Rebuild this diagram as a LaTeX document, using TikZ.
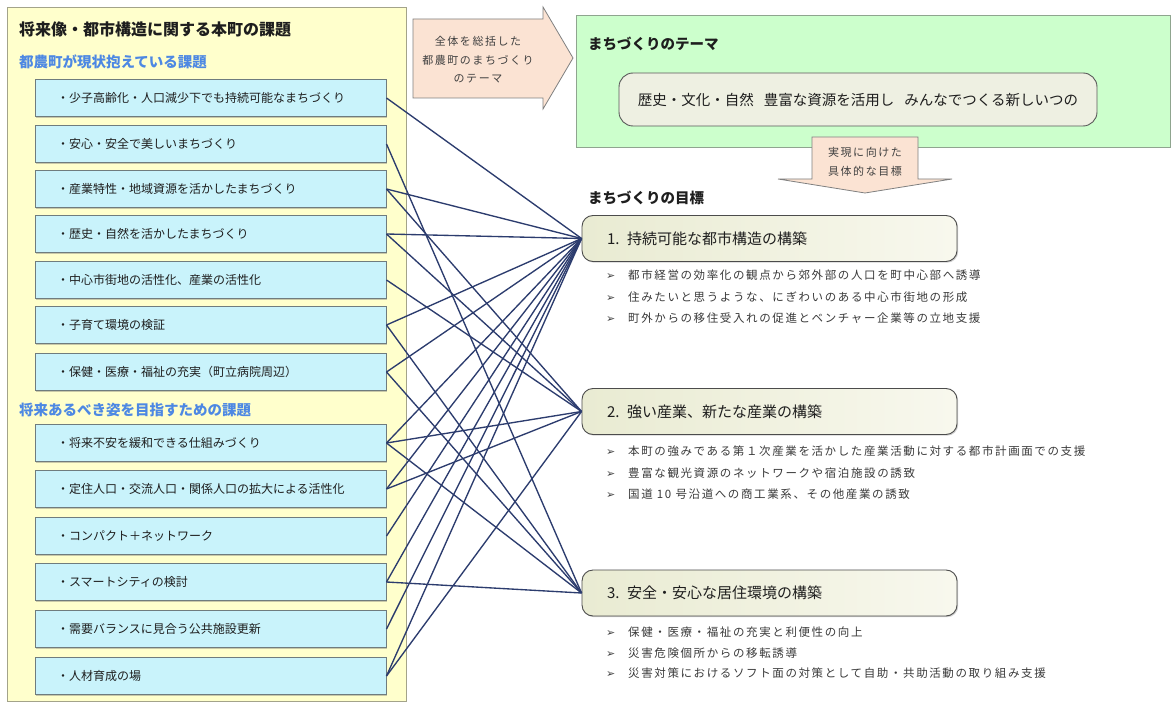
\documentclass[tikz,border=0pt]{standalone}
\usepackage{fontspec}
\setmainfont{Noto Sans CJK JP}
\newfontfamily\jpls{Noto Sans CJK JP}[LetterSpace=14]
\newfontfamily\djv{DejaVu Sans}
\usetikzlibrary{shadows}
\definecolor{panelfill}{HTML}{FFFFCC}
\definecolor{panelborder}{HTML}{A3A38A}
\definecolor{boxfill}{HTML}{C9F3FB}
\definecolor{boxborder}{HTML}{6F7C7E}
\definecolor{subblue}{HTML}{4D88E3}
\definecolor{conncol}{HTML}{2C3C6E}
\definecolor{peach}{HTML}{FBE3D3}
\definecolor{peachborder}{HTML}{808080}
\definecolor{greenfill}{HTML}{CCFFCC}
\definecolor{greenborder}{HTML}{8FA58F}
\definecolor{themefill}{HTML}{EEF0E2}
\definecolor{goalleft}{HTML}{E9EBD2}
\definecolor{goalright}{HTML}{F8F8EE}
\definecolor{textdark}{HTML}{1E1E1E}
\definecolor{bullettext}{HTML}{3A3A3A}
\begin{document}
\begin{tikzpicture}[x=1pt,y=-1pt,
  panel/.style={draw=panelborder, fill=panelfill, line width=0.9pt, inner sep=0pt},
  titletext/.style={inner sep=0pt, font=\fontsize{16}{18}\selectfont\bfseries, text=textdark},
  subtitle/.style={inner sep=0pt, font=\fontsize{14.5}{16}\selectfont\bfseries, text=subblue},
  heading/.style={inner sep=0pt, font=\fontsize{14.5}{16}\selectfont\bfseries, text=textdark},
  issuebox/.style={draw=boxborder, fill=boxfill, line width=1pt, minimum height=37pt,
    text width=307pt, inner xsep=22pt, inner ysep=0pt, align=left,
    font=\fontsize{12}{14}\selectfont, text=textdark,
    drop shadow={shadow xshift=1.2pt, shadow yshift=-1.2pt, opacity=0.35, fill=black!60}},
  arrowshape/.style={draw=peachborder, fill=peach, line width=0.8pt, line join=miter},
  arrowtext/.style={inner sep=0pt, align=center, font=\jpls\fontsize{11}{18.5}\selectfont, text=black!75},
  greenbox/.style={draw=greenborder, fill=greenfill, line width=0.9pt, inner sep=0pt},
  themebox/.style={draw=black!65, fill=themefill, line width=0.9pt, rounded corners=14pt,
    minimum width=478pt, minimum height=53pt, inner sep=0pt,
    font=\fontsize{14.5}{16}\selectfont, text=textdark},
  goalbox/.style={draw=black!70, left color=goalleft, right color=goalright, line width=0.9pt,
    rounded corners=11pt, minimum height=46pt, text width=325pt, inner xsep=25pt, inner ysep=0pt,
    align=left, font=\fontsize{15}{17}\selectfont, text=textdark,
    drop shadow={shadow xshift=1.2pt, shadow yshift=-1.2pt, opacity=0.3, fill=black!60}},
  bulletitem/.style={inner sep=0pt, anchor=west, font=\jpls\fontsize{11.5}{13}\selectfont, text=bullettext},
  conn/.style={draw=conncol, line width=1.35pt}
]
\useasboundingbox (0,0) rectangle (1174,703);
\fill[white] (0,0) rectangle (1174,703);

% left panel
\node[panel, anchor=north west, minimum width=399pt, minimum height=694pt] (panel) at (7,7) {};
\node[titletext, anchor=west] (title) at (19,29) {将来像・都市構造に関する本町の課題};
\node[subtitle, anchor=west] (sub1) at (19,62) {都農町が現状抱えている課題};
\node[subtitle, anchor=west] (sub2) at (19,410) {将来あるべき姿を目指すための課題};

\node[issuebox] (i1) at (210.5,98) {・少子高齢化・人口減少下でも持続可能なまちづくり};
\node[issuebox] (i2) at (210.5,144) {・安心・安全で美しいまちづくり};
\node[issuebox] (i3) at (210.5,189) {・産業特性・地域資源を活かしたまちづくり};
\node[issuebox] (i4) at (210.5,234) {・歴史・自然を活かしたまちづくり};
\node[issuebox] (i5) at (210.5,280) {・中心市街地の活性化、産業の活性化};
\node[issuebox] (i6) at (210.5,325) {・子育て環境の検証};
\node[issuebox] (i7) at (210.5,372) {・保健・医療・福祉の充実（町立病院周辺）};
\node[issuebox] (i8) at (210.5,443) {・将来不安を緩和できる仕組みづくり};
\node[issuebox] (i9) at (210.5,489) {・定住人口・交流人口・関係人口の拡大による活性化};
\node[issuebox] (i10) at (210.5,536) {・コンパクト＋ネットワーク};
\node[issuebox] (i11) at (210.5,582) {・スマートシティの検討};
\node[issuebox] (i12) at (210.5,629) {・需要バランスに見合う公共施設更新};
\node[issuebox] (i13) at (210.5,676) {・人材育成の場};

% top arrow
\draw[arrowshape] (413,19) -- (543,19) -- (543,7) -- (573,58) -- (543,109) -- (543,98) -- (413,98) -- cycle;
\node[arrowtext] (arrowlabel) at (478,60) {全体を総括した\\都農町のまちづくり\\のテーマ};

% theme area
\node[greenbox, anchor=north west, minimum width=594pt, minimum height=132pt] (themearea) at (576,15) {};
\node[heading, anchor=west] (themetitle) at (588,44) {まちづくりのテーマ};
\node[themebox] (theme) at (858,99.5) {歴史・文化・自然\hspace{10pt}豊富な資源を活用し\hspace{10pt}みんなでつくる新しいつの};

% down arrow
\draw[arrowshape] (812,137) -- (918,137) -- (918,179) -- (952,179) -- (865,193) -- (778,179) -- (812,179) -- cycle;
\node[arrowtext, font=\jpls\fontsize{11}{19}\selectfont] (downlabel) at (865,162) {実現に向けた\\具体的な目標};

% goals
\node[heading, anchor=west] (goalstitle) at (588,198) {まちづくりの目標};
\node[goalbox] (g1) at (769.5,238.5) {1. 持続可能な都市構造の構築};
\node[goalbox] (g2) at (769.5,411.5) {2. 強い産業、新たな産業の構築};
\node[goalbox] (g3) at (769.5,593) {3. 安全・安心な居住環境の構築};

\newcommand{\arrowbullet}{\makebox[22pt][l]{\color{black!75}\djv\fontsize{11}{11}\selectfont ➢}}
\node[bulletitem] (b11) at (606,275) {\arrowbullet 都市経営の効率化の観点から郊外部の人口を町中心部へ誘導};
\node[bulletitem] (b12) at (606,297) {\arrowbullet 住みたいと思うような、にぎわいのある中心市街地の形成};
\node[bulletitem] (b13) at (606,318) {\arrowbullet 町外からの移住受入れの促進とベンチャー企業等の立地支援};
\node[bulletitem] (b21) at (606,451) {\arrowbullet 本町の強みである第１次産業を活かした産業活動に対する都市計画面での支援};
\node[bulletitem] (b22) at (606,473) {\arrowbullet 豊富な観光資源のネットワークや宿泊施設の誘致};
\node[bulletitem] (b23) at (606,494) {\arrowbullet 国道 10 号沿道への商工業系、その他産業の誘致};
\node[bulletitem] (b31) at (606,632) {\arrowbullet 保健・医療・福祉の充実と利便性の向上};
\node[bulletitem] (b32) at (606,653) {\arrowbullet 災害危険個所からの移転誘導};
\node[bulletitem] (b33) at (606,673) {\arrowbullet 災害対策におけるソフト面の対策として自助・共助活動の取り組み支援};

% connectors
\draw[conn] (i1.east) -- (g1.west);
\draw[conn] (i2.east) -- (g3.west);
\draw[conn] (i3.east) -- (g1.west);
\draw[conn] (i3.east) -- (g2.west);
\draw[conn] (i4.east) -- (g1.west);
\draw[conn] (i4.east) -- (g2.west);
\draw[conn] (i5.east) -- (g2.west);
\draw[conn] (i6.east) -- (g1.west);
\draw[conn] (i6.east) -- (g3.west);
\draw[conn] (i7.east) -- (g1.west);
\draw[conn] (i7.east) -- (g3.west);
\draw[conn] (i8.east) -- (g1.west);
\draw[conn] (i8.east) -- (g2.west);
\draw[conn] (i8.east) -- (g3.west);
\draw[conn] (i9.east) -- (g1.west);
\draw[conn] (i9.east) -- (g2.west);
\draw[conn] (i10.east) -- (g1.west);
\draw[conn] (i11.east) -- (g1.west);
\draw[conn] (i11.east) -- (g3.west);
\draw[conn] (i12.east) -- (g1.west);
\draw[conn] (i13.east) -- (g1.west);
\draw[conn] (i13.east) -- (g2.west);
\end{tikzpicture}
\end{document}
